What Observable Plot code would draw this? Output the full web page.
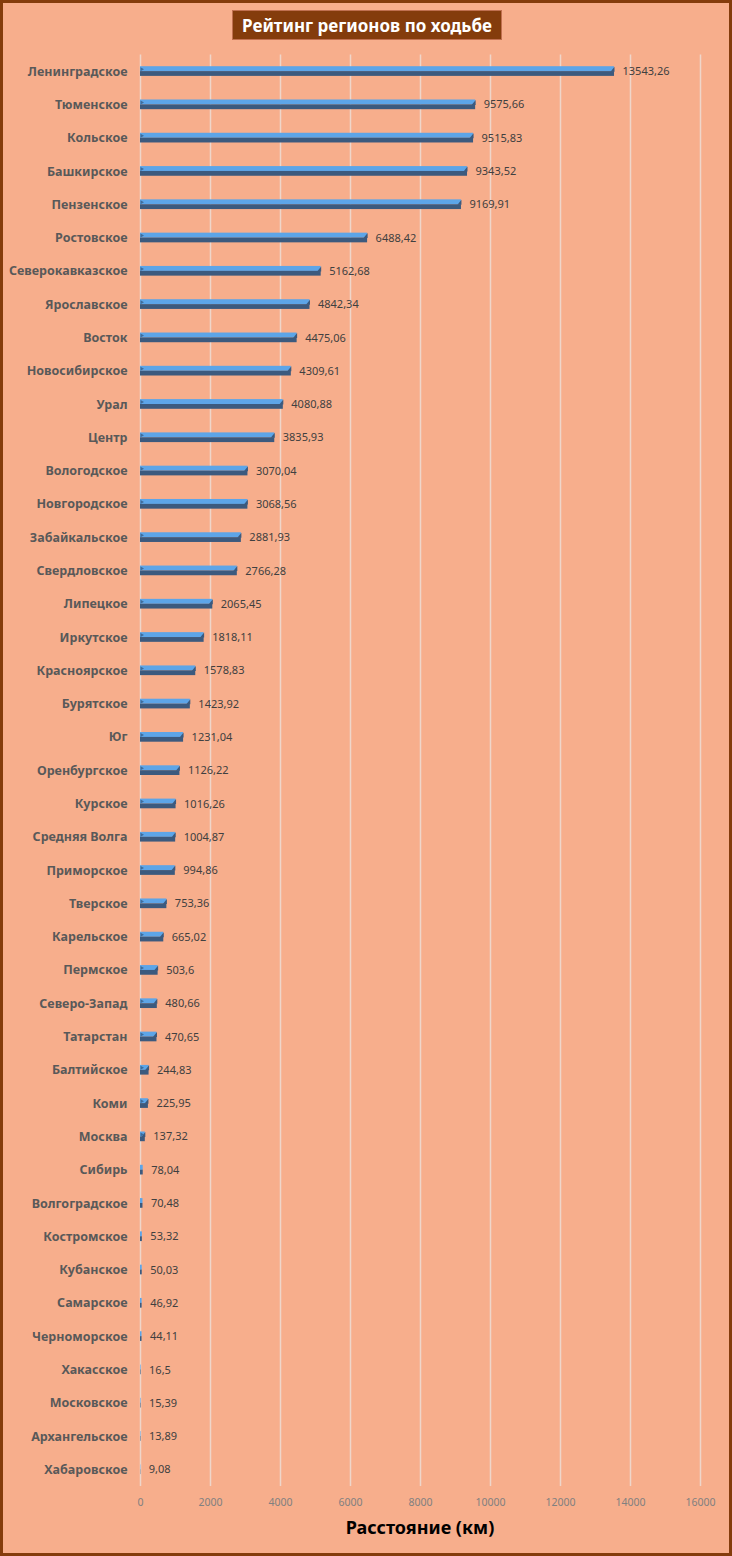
<!DOCTYPE html>
<html><head><meta charset="utf-8">
<script src="https://cdn.jsdelivr.net/npm/d3@7"></script>
<script src="https://cdn.jsdelivr.net/npm/@observablehq/plot@0.6"></script>
<style>
html,body{margin:0;padding:0;}
#wrap{position:relative;width:732px;height:1556px;box-sizing:border-box;border:3px solid #843C0C;background:#F7AE8C;overflow:hidden;font-family:"Noto Sans",sans-serif;}
#title{position:absolute;left:229px;top:7px;width:270px;height:30px;background:#843C0C;color:#fff;font-weight:bold;font-size:17px;line-height:30px;text-align:center;border:1px solid #c07050;box-sizing:border-box;}
#xlabel{position:absolute;left:0;width:100%;top:1512px;text-align:center;padding-left:108px;box-sizing:border-box;font-weight:bold;font-size:18px;color:#000;}
#chart{position:absolute;left:-3px;top:-3px;width:732px;height:1556px;}
#chart svg{display:block;max-width:none !important;width:732px;height:1556px;}
</style></head>
<body>
<div id="wrap">
<div id="chart"></div>
<div id="title">Рейтинг регионов по ходьбе</div>
<div id="xlabel">Расстояние (км)</div>
</div>
<script>
const regions = ["Ленинградское","Тюменское","Кольское","Башкирское","Пензенское","Ростовское","Северокавказское","Ярославское","Восток","Новосибирское","Урал","Центр","Вологодское","Новгородское","Забайкальское","Свердловское","Липецкое","Иркутское","Красноярское","Бурятское","Юг","Оренбургское","Курское","Средняя Волга","Приморское","Тверское","Карельское","Пермское","Северо-Запад","Татарстан","Балтийское","Коми","Москва","Сибирь","Волгоградское","Костромское","Кубанское","Самарское","Черноморское","Хакасское","Московское","Архангельское","Хабаровское"];
const distances = [13543.26,9575.66,9515.83,9343.52,9169.91,6488.42,5162.68,4842.34,4475.06,4309.61,4080.88,3835.93,3070.04,3068.56,2881.93,2766.28,2065.45,1818.11,1578.83,1423.92,1231.04,1126.22,1016.26,1004.87,994.86,753.36,665.02,503.6,480.66,470.65,244.83,225.95,137.32,78.04,70.48,53.32,50.03,46.92,44.11,16.5,15.39,13.89,9.08];
const xTicks = [0,2000,4000,6000,8000,10000,12000,14000,16000];

const data = regions.map((r,i)=>({region:r, value:distances[i]}));
const fmt = v => String(v).replace(".", ",");

const endCap = {draw(ctx) { ctx.moveTo(0,-5); ctx.lineTo(0,0); ctx.lineTo(-4,0); ctx.closePath(); }};
const startCap = {draw(ctx) { ctx.moveTo(0,-4.5); ctx.lineTo(3.5,-2.5); ctx.lineTo(0,-0.5); ctx.closePath(); }};
const bigBars = data.filter(d => d.value > 120);

const chart = Plot.plot({
  width: 732,
  height: 1556,
  marginLeft: 140,
  marginRight: 32,
  marginTop: 54.5,
  marginBottom: 70,
  style: {background: "transparent", fontFamily: "Noto Sans, sans-serif", overflow: "visible", maxWidth: "none"},
  x: {domain: [0,16000]},
  y: {domain: regions, paddingInner: 0, paddingOuter: 0, align: 0.5, round: false},
  marks: [
    Plot.ruleX(xTicks, {stroke: "#EFD6CA", strokeWidth: 1.5}),
    Plot.barX(data, {y: "region", x: "value", fill: "#5DA5E8", insetTop: 11.7, insetBottom: 16.6}),
    Plot.barX(data, {y: "region", x: "value", fill: "#3C5A7E", insetTop: 16.6, insetBottom: 11.9}),
    Plot.dot(bigBars, {y: "region", x: "value", symbol: endCap, fill: "#3C5A7E", stroke: null, r: 3}),
    Plot.dot(bigBars, {y: "region", x: 0, symbol: startCap, fill: "#3F6D9C", stroke: null, r: 3}),
    Plot.text(data, {y: "region", x: "value", text: d => fmt(d.value), textAnchor: "start", dx: 8, fill: "#404040", fontSize: 11}),
    Plot.axisY({tickSize: 0, tickPadding: 13, fontSize: 12.5, fontWeight: "bold", color: "#595959", label: null}),
    Plot.axisX({ticks: xTicks, tickFormat: d => String(d), tickSize: 0, tickPadding: 12, fontSize: 10.5, color: "#808080", label: null, anchor: "bottom"})
  ]
});
document.getElementById("chart").appendChild(chart);
</script>
</body></html>
